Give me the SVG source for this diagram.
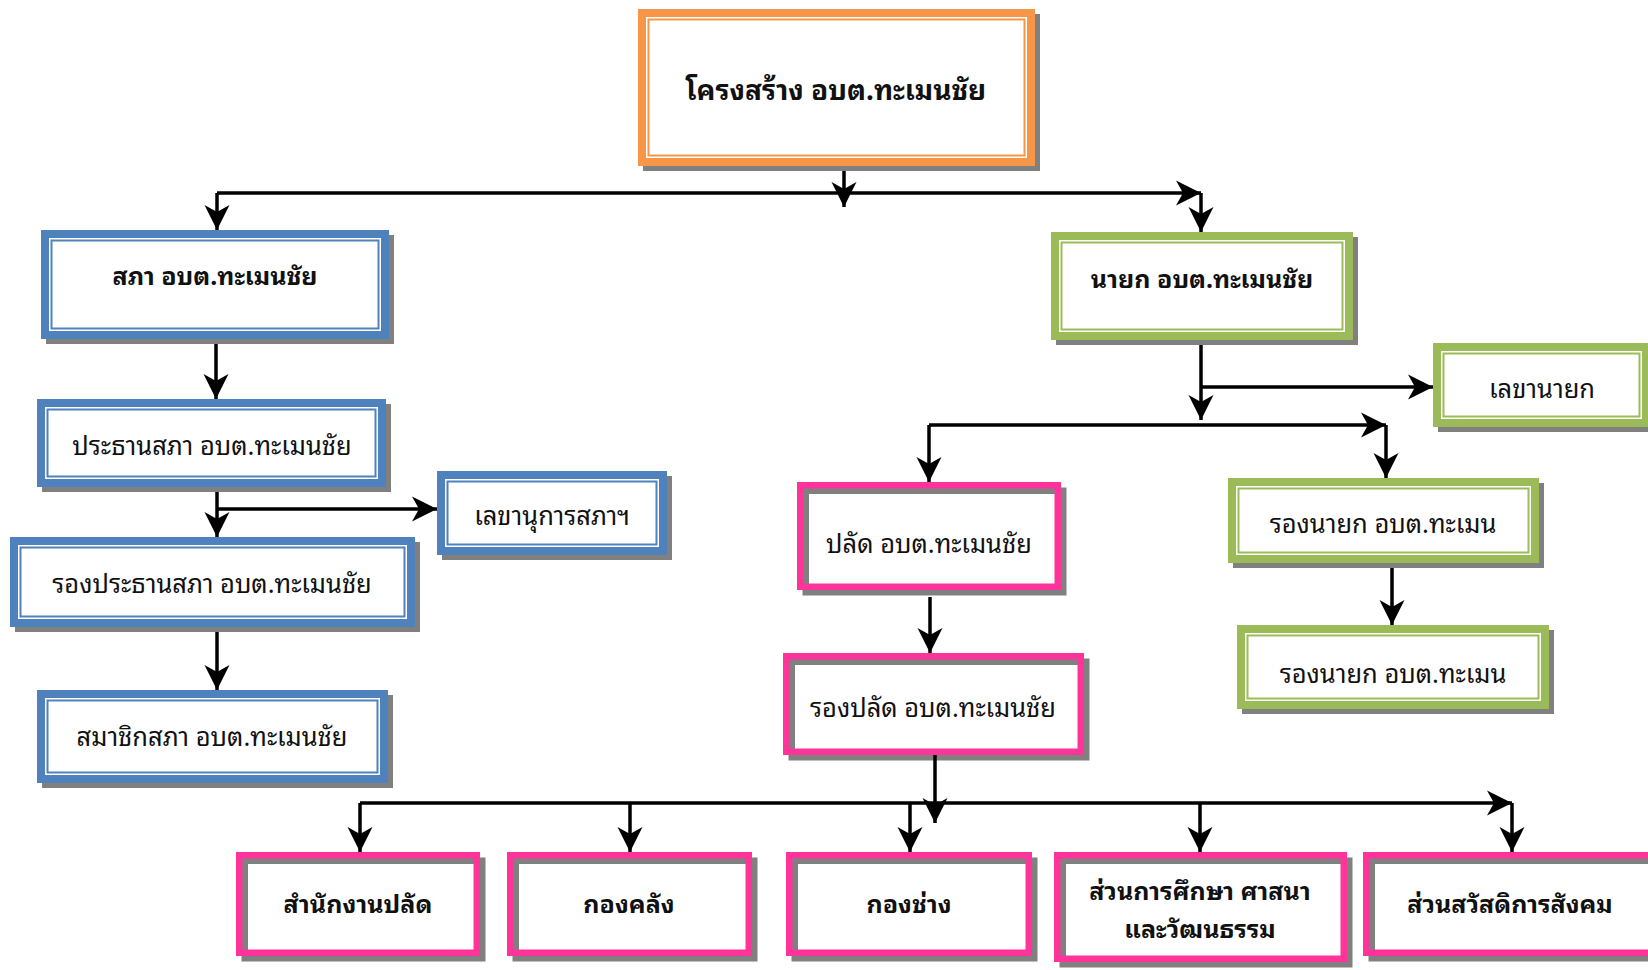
<svg xmlns="http://www.w3.org/2000/svg" width="1648" height="970" viewBox="0 0 1648 970">
<defs>
<style>
.sh{fill:#808080}
.bg{fill:#ffffff}
.blue{fill:#ffffff;stroke:#4F81BD;stroke-width:8}
.blueIn{fill:none;stroke:#4F81BD;stroke-width:2}
.green{fill:#ffffff;stroke:#9BBB59;stroke-width:8}
.greenIn{fill:none;stroke:#9BBB59;stroke-width:2}
.orange{fill:#ffffff;stroke:#F79646;stroke-width:8}
.orangeIn{fill:none;stroke:#F79646;stroke-width:2}
.pink{fill:none;stroke:#FF3399;stroke-width:6.5}
.psh{fill:none;stroke:#808080;stroke-width:6.5}
.t{font-family:"Noto Sans Thai Looped","Noto Serif Thai","Noto Sans Thai","Noto Sans",sans-serif;font-size:25.5px;fill:#111;text-anchor:middle}
.b{font-weight:bold;font-size:25px}
.title{font-weight:bold;font-size:28px}
.c{fill:none;stroke:#000;stroke-width:3.5}
</style>
<marker id="a" markerUnits="userSpaceOnUse" markerWidth="30" markerHeight="30" refX="0" refY="0" orient="auto" overflow="visible">
<path d="M0,0 L-25,-12.5 L-18,0 L-25,12.5 Z" fill="#000"/>
</marker>
</defs>

<g id="n-top">
<rect class="sh" x="643" y="14" width="397" height="157"/>
<rect class="orange" x="642" y="13" width="389" height="149"/>
<rect class="orangeIn" x="648.5" y="19.5" width="376" height="136"/>
<text class="t title" x="836" y="100">โครงสร้าง อบต.ทะเมนชัย</text>
</g>

<g id="n-sapha">
<rect class="sh" x="46" y="235" width="348" height="109"/>
<rect class="blue" x="45" y="234" width="340" height="101"/>
<rect class="blueIn" x="51.5" y="240.5" width="327" height="88"/>
<text class="t b" x="215" y="285">สภา อบต.ทะเมนชัย</text>
</g>

<g id="n-prathan">
<rect class="sh" x="42" y="404" width="349" height="88"/>
<rect class="blue" x="41" y="403" width="341" height="80"/>
<rect class="blueIn" x="47.5" y="409.5" width="328" height="67"/>
<text class="t" x="212" y="455">ประธานสภา อบต.ทะเมนชัย</text>
</g>

<g id="n-lekhasapha">
<rect class="sh" x="442" y="476" width="230" height="84"/>
<rect class="blue" x="441" y="475" width="222" height="76"/>
<rect class="blueIn" x="447.5" y="481.5" width="209" height="63"/>
<text class="t" x="552" y="525">เลขานุการสภาฯ</text>
</g>

<g id="n-rongprathan">
<rect class="sh" x="15" y="542" width="405" height="90"/>
<rect class="blue" x="14" y="541" width="397" height="82"/>
<rect class="blueIn" x="20.5" y="547.5" width="384" height="69"/>
<text class="t" x="212" y="593">รองประธานสภา อบต.ทะเมนชัย</text>
</g>

<g id="n-samachik">
<rect class="sh" x="42" y="695" width="351" height="93"/>
<rect class="blue" x="41" y="694" width="343" height="85"/>
<rect class="blueIn" x="47.5" y="700.5" width="330" height="72"/>
<text class="t" x="212" y="746">สมาชิกสภา อบต.ทะเมนชัย</text>
</g>

<g id="n-nayok">
<rect class="sh" x="1056" y="237" width="302" height="108"/>
<rect class="green" x="1055" y="236" width="294" height="100"/>
<rect class="greenIn" x="1061.5" y="242.5" width="281" height="87"/>
<text class="t b" x="1202" y="288">นายก อบต.ทะเมนชัย</text>
</g>

<g id="n-lekhanayok">
<rect class="sh" x="1438" y="348" width="217" height="84"/>
<rect class="green" x="1437" y="347" width="209" height="76"/>
<rect class="greenIn" x="1443.5" y="353.5" width="196" height="63"/>
<text class="t" x="1542" y="398">เลขานายก</text>
</g>

<g id="n-rongnayok1">
<rect class="sh" x="1233" y="483" width="311" height="85"/>
<rect class="green" x="1232" y="482" width="303" height="77"/>
<rect class="greenIn" x="1238.5" y="488.5" width="290" height="64"/>
<text class="t" x="1383" y="533">รองนายก อบต.ทะเมน</text>
</g>

<g id="n-rongnayok2">
<rect class="sh" x="1242" y="630" width="312" height="84"/>
<rect class="green" x="1241" y="629" width="304" height="76"/>
<rect class="greenIn" x="1247.5" y="635.5" width="291" height="63"/>
<text class="t" x="1393" y="683">รองนายก อบต.ทะเมน</text>
</g>

<g id="n-palad">
<rect class="bg" x="797" y="482" width="264" height="108"/>
<rect class="psh" x="805.75" y="490.75" width="257.5" height="101.5"/>
<rect class="pink" x="800.25" y="485.25" width="257.5" height="101.5"/>
<text class="t" x="929" y="553">ปลัด อบต.ทะเมนชัย</text>
</g>

<g id="n-rongpalad">
<rect class="bg" x="783" y="653" width="301" height="102"/>
<rect class="psh" x="791.75" y="661.75" width="294.5" height="95.5"/>
<rect class="pink" x="786.25" y="656.25" width="294.5" height="95.5"/>
<text class="t" x="933" y="717">รองปลัด อบต.ทะเมนชัย</text>
</g>

<g id="n-b1">
<rect class="bg" x="236" y="852" width="244" height="104"/>
<rect class="psh" x="244.75" y="860.75" width="237.5" height="97.5"/>
<rect class="pink" x="239.25" y="855.25" width="237.5" height="97.5"/>
<text class="t b" x="358" y="913">สำนักงานปลัด</text>
</g>

<g id="n-b2">
<rect class="bg" x="507" y="852" width="245" height="104"/>
<rect class="psh" x="515.75" y="860.75" width="238.5" height="97.5"/>
<rect class="pink" x="510.25" y="855.25" width="238.5" height="97.5"/>
<text class="t b" x="629" y="913">กองคลัง</text>
</g>

<g id="n-b3">
<rect class="bg" x="786" y="852" width="246" height="104"/>
<rect class="psh" x="794.75" y="860.75" width="239.5" height="97.5"/>
<rect class="pink" x="789.25" y="855.25" width="239.5" height="97.5"/>
<text class="t b" x="909" y="913">กองช่าง</text>
</g>

<g id="n-b4">
<rect class="bg" x="1054" y="852" width="293" height="110"/>
<rect class="psh" x="1062.75" y="860.75" width="286.5" height="103.5"/>
<rect class="pink" x="1057.25" y="855.25" width="286.5" height="103.5"/>
<text class="t b" x="1200" y="900">ส่วนการศึกษา ศาสนา</text>
<text class="t b" x="1200" y="938">และวัฒนธรรม</text>
</g>

<g id="n-b5">
<rect class="bg" x="1363" y="852" width="293" height="104"/>
<rect class="psh" x="1371.75" y="860.75" width="286.5" height="97.5"/>
<rect class="pink" x="1366.25" y="855.25" width="286.5" height="97.5"/>
<text class="t b" x="1510" y="913">ส่วนสวัสดิการสังคม</text>
</g>

<g id="connectors">
<path class="c" d="M217,193 L1201,193" marker-end="url(#a)"/>
<path class="c" d="M844,171 L844,207" marker-end="url(#a)"/>
<path class="c" d="M217,193 L217,230" marker-end="url(#a)"/>
<path class="c" d="M1201,193 L1201,232" marker-end="url(#a)"/>
<path class="c" d="M216,344 L216,399" marker-end="url(#a)"/>
<path class="c" d="M217,492 L217,537" marker-end="url(#a)"/>
<path class="c" d="M217,509 L437,509" marker-end="url(#a)"/>
<path class="c" d="M217,632 L217,690" marker-end="url(#a)"/>
<path class="c" d="M1201,345 L1201,420" marker-end="url(#a)"/>
<path class="c" d="M1201,387 L1433,387" marker-end="url(#a)"/>
<path class="c" d="M929,425 L1386,425" marker-end="url(#a)"/>
<path class="c" d="M929,425 L929,482" marker-end="url(#a)"/>
<path class="c" d="M1386,425 L1386,478" marker-end="url(#a)"/>
<path class="c" d="M1392,568 L1392,625" marker-end="url(#a)"/>
<path class="c" d="M930,597 L930,653" marker-end="url(#a)"/>
<path class="c" d="M935,755 L935,823" marker-end="url(#a)"/>
<path class="c" d="M360,803 L1512,803" marker-end="url(#a)"/>
<path class="c" d="M360,803 L360,852" marker-end="url(#a)"/>
<path class="c" d="M630,803 L630,852" marker-end="url(#a)"/>
<path class="c" d="M910,803 L910,852" marker-end="url(#a)"/>
<path class="c" d="M1200,803 L1200,852" marker-end="url(#a)"/>
<path class="c" d="M1512,803 L1512,852" marker-end="url(#a)"/>
</g>
</svg>
